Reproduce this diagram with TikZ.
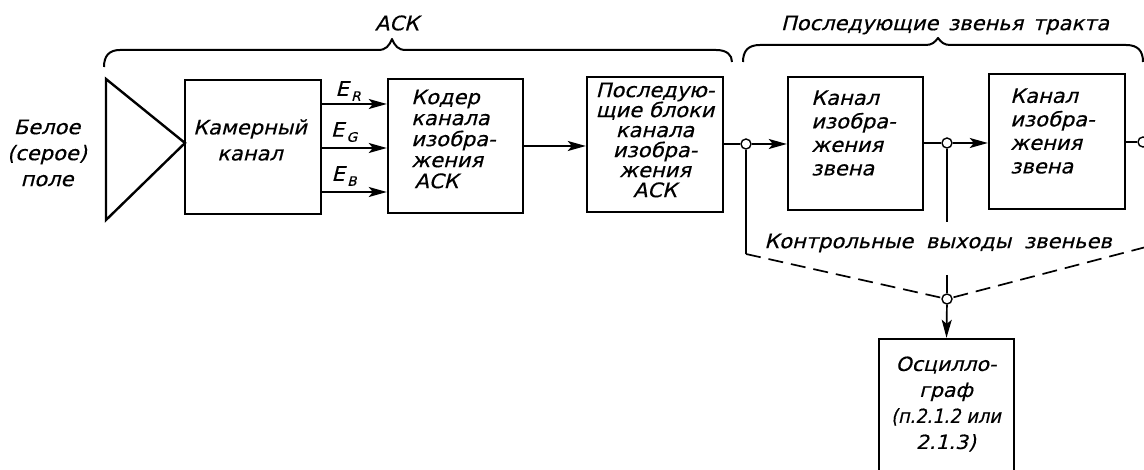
\documentclass[tikz,border=0pt]{standalone}
\usepackage{fontspec}
\usepackage{graphicx}
\newfontfamily\gostfont{DejaVu Sans}[FakeSlant=0.25,FakeStretch=1.05,FakeBold=0.4]
\usetikzlibrary{arrows.meta}
\newcommand{\esig}[1]{E\hspace{2.5pt}\raisebox{-5pt}{\fontsize{13}{13}\selectfont #1}}
\begin{document}
\begin{tikzpicture}[x=1pt,y=-1pt,
  box/.style={draw,line width=2.4pt,inner sep=0pt},
  txt/.style={font=\gostfont\fontsize{20}{21}\selectfont,inner sep=0pt},
  txtA/.style={font=\gostfont\fontsize{20}{23.5}\selectfont,inner sep=0pt},
  txtB/.style={font=\gostfont\fontsize{20}{26}\selectfont,inner sep=0pt},
  txtC/.style={font=\gostfont\fontsize{19.5}{26}\selectfont,inner sep=0pt},
  txtD/.style={font=\gostfont\fontsize{20}{20}\selectfont,inner sep=0pt},
  conn/.style={line width=1.7pt},
  arr/.style={conn,-{Stealth[length=18pt,width=10pt,inset=4pt]}},
  dashline/.style={line width=1.7pt,dash pattern=on 15pt off 8pt},
  junc/.style={circle,draw,line width=1.4pt,fill=white,minimum size=10pt,inner sep=0pt},
  bracepath/.style={line width=2pt,line join=round}
]
\fill[white] (0,0) rectangle (1144,470);
\useasboundingbox (0,0) rectangle (1144,470);

% boxes
\node[box,minimum width=136pt,minimum height=134pt] (cam) at (253,147) {};
\node[box,minimum width=135pt,minimum height=134pt] (cod) at (455.5,146) {};
\node[box,minimum width=136pt,minimum height=135pt] (post) at (655,144.5) {};
\node[box,minimum width=135pt,minimum height=133pt] (z1) at (855.5,143.5) {};
\node[box,minimum width=136pt,minimum height=135pt] (z2) at (1057,141.5) {};
\node[box,minimum width=135pt,minimum height=133pt] (osc) at (946.5,405.5) {};

% source triangle
\coordinate (trtop) at (106,79);
\coordinate (trbot) at (106,220);
\coordinate (trtip) at (185,143);
\draw[line width=2.4pt,line join=miter] (trtop) -- (trtip) -- (trbot) -- cycle;

% box texts
\node[txtB,align=center] (camt) at (250,140) {Камерный\\канал};
\node[txt,align=left,anchor=west] (codt) at (411,139) {Кодер\\канала\\изобра-\\жения\\ \,АСК};
\node[txtD,align=center] (postt) at (655,140) {Последую-\\щие блоки\\канала\\изобра-\\жения\\АСК};
\node[txtA,align=left,anchor=west] (z1t) at (811,133) {Канал\\изобра-\\жения\\звена};
\node[txtA,align=left,anchor=west] (z2t) at (1010,131) {Канал\\изобра-\\жения\\звена};
\node[txtC,align=center] (osct) at (946,404) {Осцилло-\\граф\\\scalebox{0.87}[1]{(п.2.1.2 или}\\2.1.3)};
\node[txtB,align=center] (field) at (47,153) {Белое\\(серое)\\поле};

% E signals
\coordinate (yR) at (0,104);
\coordinate (yG) at (0,148);
\coordinate (yB) at (0,192);
\draw[arr] (cam.east |- yR) -- (cod.west |- yR);
\draw[arr] (cam.east |- yG) -- (cod.west |- yG);
\draw[arr] (cam.east |- yB) -- (cod.west |- yB);
\node[txt] (eR) at (348,91) {\esig{R}};
\node[txt] (eG) at (344,132) {\esig{G}};
\node[txt] (eB) at (344,176) {\esig{B}};

% main chain
\coordinate (ym) at (0,146);
\draw[arr] (cod.east |- ym) -- (post.west |- ym);
\node[junc] (j1) at (746,144) {};
\node[junc] (j2) at (947,143) {};
\node[junc] (j3) at (1143,142) {};
\draw[conn] (post.east |- j1) -- (j1);
\draw[arr] (j1) -- (z1.west |- j1);
\draw[conn] (z1.east |- j2) -- (j2);
\draw[arr] (j2) -- (z2.west |- j2);
\draw[conn] (z2.east |- j3) -- (j3);

% control outputs
\node[junc] (jc) at (947,299) {};
\coordinate (c1) at (746,254);
\coordinate (c2) at (947,222);
\coordinate (c3) at (1146,247);
\coordinate (c4) at (947,275);
\draw[conn] (j1) -- (c1);
\draw[dashline] (c1) -- (jc);
\draw[conn] (j2) -- (c2);
\draw[dashline] (c3) -- (jc);
\draw[conn] (c4) -- (jc);
\draw[arr] (jc) -- (osc.north);
\node[txt] (ctl) at (938,243) {Контрольные\hspace{6pt} выходы\hspace{6pt} звеньев};

% braces
\draw[bracepath] (104,67) .. controls (104,56) and (109,50) .. (120,50) -- (378,50)
  .. controls (386,50) and (389,46) .. (392,39) .. controls (395,46) and (398,50) .. (406,50)
  -- (716,50) .. controls (727,50) and (732,55) .. (732,62);
\node[txt] (ask) at (397,23) {АСК};
\draw[bracepath] (743,62) .. controls (743,51) and (748,45) .. (760,45) -- (926,45)
  .. controls (932,45) and (935,42) .. (938,38) .. controls (941,42) and (944,45) .. (950,45)
  -- (1126,45) .. controls (1138,45) and (1143,51) .. (1143,62);
\node[txt] (nxt) at (945,25) {Последующие\hspace{3pt} звенья\hspace{3pt} тракта};
\end{tikzpicture}
\end{document}
